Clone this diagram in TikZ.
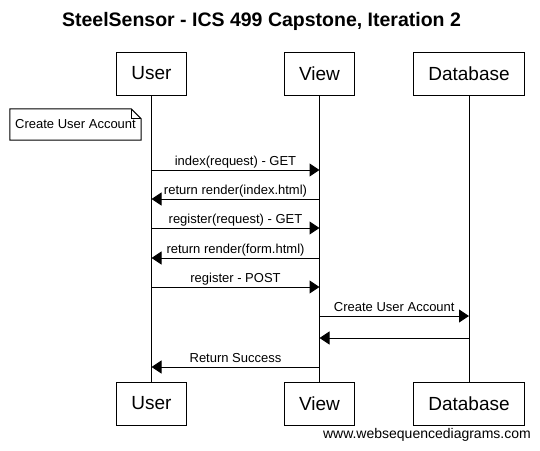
\documentclass[tikz,border=0pt]{standalone}
\usepackage{fontspec}
\setmainfont{Liberation Sans}
\usetikzlibrary{arrows.meta,positioning}
\tikzstyle{actor} = [rectangle, draw, fill=white, line width=1pt,
    inner xsep=15pt, minimum height=43pt, font=\fontsize{19}{22}\selectfont]
\tikzstyle{lifeline} = [draw, line width=1pt]
\tikzstyle{msg} = [draw, line width=1pt, -{Triangle[length=10pt,width=13pt]}]
\tikzstyle{msglabel} = [above, inner sep=1.5pt, text depth=3pt,
    font=\fontsize{13}{15}\selectfont]
\tikzstyle{notebox} = [rectangle, minimum width=131pt, minimum height=31pt,
    inner sep=0pt, font=\fontsize{13}{15}\selectfont]

\begin{document}
\begin{tikzpicture}[x=1pt, y=-1pt]
\useasboundingbox (0,0) rectangle (540,450);
    % Place nodes
\node[font=\bfseries\fontsize{19.5}{22}\selectfont] (title) at (261.5,21)
{SteelSensor - ICS 499 Capstone, Iteration 2};
\node[actor] (user) at (151.5,73.5) {User}; \node[actor] (view) at
(319.5,73.5) {View}; \node[actor] (db) at (469,73.5) {Database};
\node[actor, below=286pt of user] (user2) {User}; \node[actor,
  below=286pt of view] (view2) {View}; \node[actor, below=286pt of db]
(db2) {Database};
\node[notebox] (note) at (75.5,124.5) {Create User Account};
\node[anchor=base east, inner sep=0pt, font=\fontsize{14}{16}\selectfont]
(wsd) at (531,438) {www.websequencediagrams.com};

    % Message levels
\coordinate (m1) at (0,170); \coordinate (m2) at (0,199);
\coordinate (m3) at (0,228); \coordinate (m4) at (0,258);
\coordinate (m5) at (0,287); \coordinate (m6) at (0,316);
\coordinate (m7) at (0,338); \coordinate (m8) at (0,367);

    % Draw edges
\path [lifeline] (user) -- (user2);
\path [lifeline] (view) -- (view2);
\path [lifeline] (db) -- (db2);
\draw [line width=1pt] (note.north west) -- ([xshift=-10pt]note.north east)
  -- ([yshift=-10pt]note.north east) -- (note.south east)
  -- (note.south west) -- cycle;
\draw [line width=1pt] ([xshift=-10pt]note.north east) |- ([yshift=-10pt]note.north east);
\path [msg] (user |- m1) -- node[msglabel] {index(request) - GET} (view |- m1);
\path [msg] (view |- m2) -- node[msglabel] {return render(index.html)} (user |- m2);
\path [msg] (user |- m3) -- node[msglabel] {register(request) - GET} (view |- m3);
\path [msg] (view |- m4) -- node[msglabel] {return render(form.html)} (user |- m4);
\path [msg] (user |- m5) -- node[msglabel] {register - POST} (view |- m5);
\path [msg] (view |- m6) -- node[msglabel] {Create User Account} (db |- m6);
\path [msg] (db |- m7) -- (view |- m7);
\path [msg] (view |- m8) -- node[msglabel] {Return Success} (user |- m8);

\end{tikzpicture}
\end{document}
